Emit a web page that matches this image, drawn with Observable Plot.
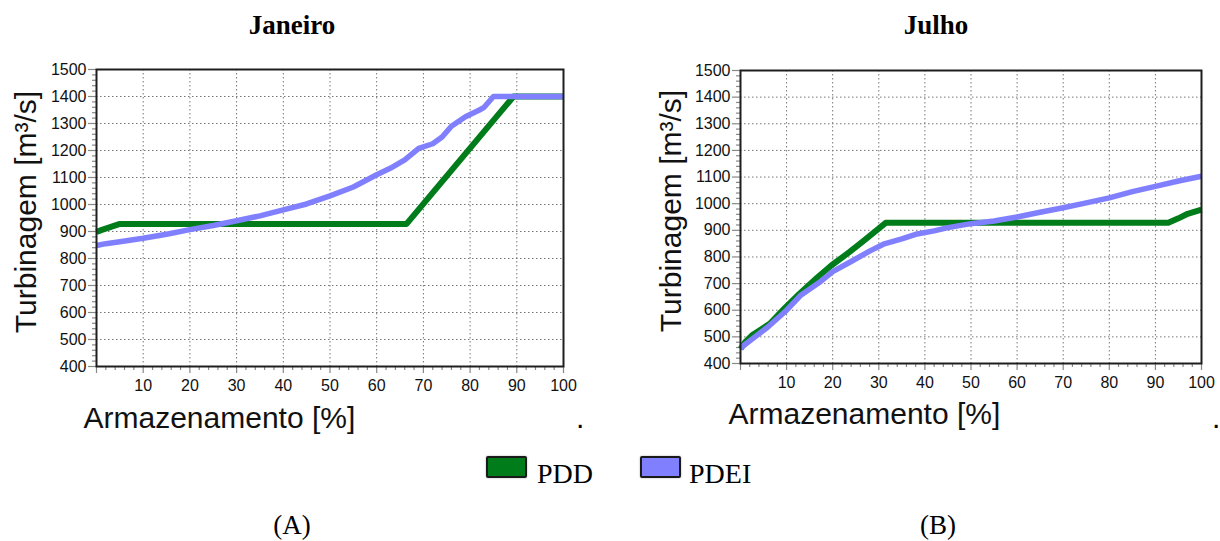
<!DOCTYPE html>
<html>
<head>
<meta charset="utf-8">
<script src="https://cdn.jsdelivr.net/npm/d3@7"></script>
<script src="https://cdn.jsdelivr.net/npm/@observablehq/plot@0.6"></script>
<style>
  html, body { margin: 0; padding: 0; background: #fff; }
  #root { position: relative; width: 1220px; height: 541px; overflow: hidden; font-family: "Liberation Sans", Arial, sans-serif; }
  .abs { position: absolute; white-space: nowrap; }
  .c { transform: translate(-50%, -50%); }
  .title { font-family: "Liberation Serif", "Times New Roman", serif; font-weight: bold; font-size: 27px; line-height: 1; }
  .cap { font-family: "Liberation Serif", "Times New Roman", serif; font-size: 27px; line-height: 1; }
  .leg { font-family: "Liberation Serif", "Times New Roman", serif; font-size: 28px; line-height: 1; }
  .sw { width: 37px; height: 18px; border: 2px solid #1a1a1a; border-radius: 2px; box-shadow: 0 0 2px rgba(0,0,0,0.35); }
  .dot { font-size: 30px; line-height: 30px; }
</style>
</head>
<body>
<div id="root"></div>
<script>
// ---------- data ----------
const seriesNames = ["PDD", "PDEI"];
const seriesColors = ["#007d1a", "#8080ff"];
const xTickValues = [0, 10, 20, 30, 40, 50, 60, 70, 80, 90, 100];
const yTickValues = [400, 500, 600, 700, 800, 900, 1000, 1100, 1200, 1300, 1400, 1500];

// Janeiro
const janPddX  = [0, 1, 5, 66.4, 89.3, 100];
const janPddY  = [898, 905, 928, 928, 1400, 1400];
const janPdeiX = [0, 2, 5, 10, 15, 20, 25, 30, 35, 40, 45, 50, 55, 60, 63, 66, 69, 72, 74, 76, 79, 82, 83, 85, 100];
const janPdeiY = [848, 855, 862, 875, 890, 907, 922, 940, 958, 980, 1002, 1032, 1065, 1110, 1135, 1165, 1208, 1225, 1250, 1290, 1325, 1350, 1360, 1400, 1400];

// Julho
const julPddX  = [0, 1, 2.5, 6.4, 9.7, 12.7, 16.6, 19.7, 23.6, 26.7, 31.5, 92.8, 95, 97, 100];
const julPddY  = [455, 480, 506, 550, 610, 660, 722, 768, 818, 860, 928, 928, 945, 962, 978];
const julPdeiX = [0, 3, 6, 10, 13, 17, 20, 24, 28, 31, 35, 38, 42, 45, 50, 55, 60, 65, 70, 75, 80, 85, 90, 95, 100];
const julPdeiY = [458, 498, 538, 600, 655, 703, 745, 783, 822, 848, 868, 885, 898, 910, 925, 935, 950, 968, 985, 1003, 1022, 1045, 1065, 1085, 1103];

const titles = ["Janeiro", "Julho"];
const captions = ["(A)", "(B)"];
const xLabel = "Armazenamento [%]";
const yLabel = "Turbinagem [m³/s]";

// ---------- build ----------
const zip = (xs, ys) => xs.map((x, i) => ({x, y: ys[i]}));
const root = document.getElementById("root");

function makeChart(pdd, pdei, m) {
  const W = 610, H = 450;
  const font = "'Liberation Sans', Arial, sans-serif";
  const minorX = d3.range(0, 101, 2).filter(d => d % 10 !== 0);
  const minorY = d3.range(400, 1501, 20).filter(d => d % 100 !== 0);
  return Plot.plot({
    width: W, height: H,
    marginLeft: m.left, marginRight: m.right, marginTop: m.top, marginBottom: m.bottom,
    style: {fontFamily: font, background: "transparent", overflow: "visible"},
    x: {domain: [0, 100], label: null},
    y: {domain: [400, 1500], label: null},
    marks: [
      Plot.gridX(xTickValues.filter(d => d > 0 && d < 100), {stroke: "#777", strokeOpacity: 1, strokeDasharray: "1.5,2.5", strokeWidth: 1}),
      Plot.gridY(yTickValues.filter(d => d > 400 && d < 1500), {stroke: "#777", strokeOpacity: 1, strokeDasharray: "1.5,2.5", strokeWidth: 1}),
      Plot.axisX(minorX, {tickSize: 4, text: null, label: null, stroke: "#888", strokeWidth: 1.2}),
      Plot.axisY(minorY, {tickSize: 4, text: null, label: null, stroke: "#888", strokeWidth: 1.2}),
      Plot.axisX(xTickValues, {tickSize: 7, tickPadding: 6, stroke: "#888", strokeWidth: 1.2, fill: "#111", fontSize: 16,
        tickFormat: d => d === 0 ? "" : String(d), label: null}),
      Plot.axisY(yTickValues, {tickSize: 8, tickPadding: 2, stroke: "#888", strokeWidth: 1.2, fill: "#111", fontSize: 16,
        tickFormat: d => String(d), label: null}),
      Plot.line(pdd, {x: "x", y: "y", stroke: seriesColors[0], strokeWidth: 6, strokeLinejoin: "round", strokeLinecap: "butt"}),
      Plot.line(pdei, {x: "x", y: "y", stroke: seriesColors[1], strokeWidth: 5.5, strokeLinejoin: "round", strokeLinecap: "butt"}),
      Plot.frame({stroke: "#1e1e1e", strokeWidth: 2}),
      Plot.text([yLabel], {frameAnchor: "left", rotate: -90, dx: m.ylabDx, dy: m.ylabDy, fontSize: 30, fill: "#111", textAnchor: "middle", lineAnchor: "middle"}),
      Plot.text([xLabel], {frameAnchor: "bottom-left", textAnchor: "start", lineAnchor: "middle", dx: m.xlabDx, dy: m.xlabDy, fontSize: 30, fill: "#111"})
    ]
  });
}

const left = makeChart(zip(janPddX, janPddY), zip(janPdeiX, janPdeiY),
  {left: 96, right: 47, top: 69, bottom: 84, ylabDx: -70, ylabDy: -6, xlabDx: -13, xlabDy: 52});
left.style.position = "absolute"; left.style.left = "0px"; left.style.top = "0px";
root.appendChild(left);

const right = makeChart(zip(julPddX, julPddY), zip(julPdeiX, julPdeiY),
  {left: 130, right: 19, top: 70, bottom: 87, ylabDx: -69, ylabDy: -6, xlabDx: -12, xlabDy: 51});
right.style.position = "absolute"; right.style.left = "610px"; right.style.top = "0px";
root.appendChild(right);

function addDiv(cls, text, x, y, center = true) {
  const d = document.createElement("div");
  d.className = "abs " + cls + (center ? " c" : "");
  d.textContent = text;
  d.style.left = x + "px"; d.style.top = y + "px";
  root.appendChild(d);
  return d;
}

addDiv("title", titles[0], 292, 25);
addDiv("title", titles[1], 936, 25);
addDiv("cap", captions[0], 292, 525);
addDiv("cap", captions[1], 938, 525);
addDiv("dot", ".", 576, 403, false);
addDiv("dot", ".", 1212, 403, false);

// legend
const legPos = [{sw: 486, tx: 537}, {sw: 640, tx: 689}];
seriesNames.forEach((name, i) => {
  const s = document.createElement("div");
  s.className = "abs sw";
  s.style.left = legPos[i].sw + "px"; s.style.top = "456px";
  s.style.background = seriesColors[i];
  root.appendChild(s);
  addDiv("leg", name, legPos[i].tx, 460, false);
});
</script>
</body>
</html>
